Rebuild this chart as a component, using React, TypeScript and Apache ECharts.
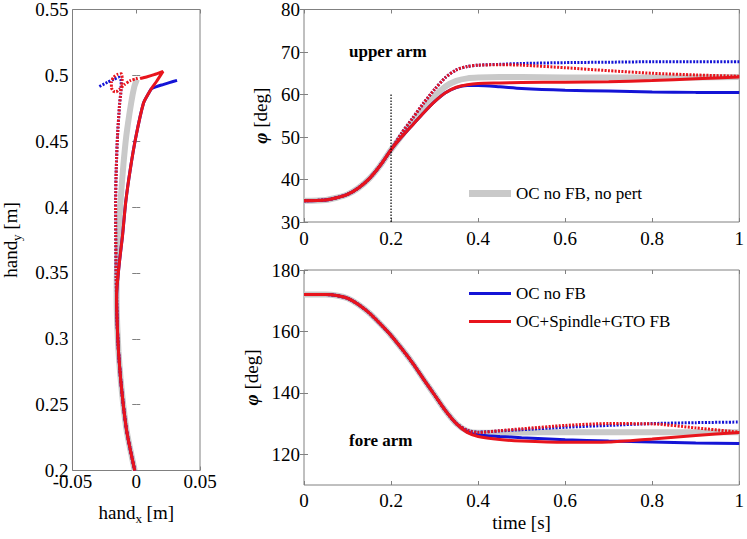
import React, { useEffect, useRef } from 'react';
import * as echarts from 'echarts';

// ---------- time axis (s) ----------
const TIME = [0, 0.05, 0.075, 0.1, 0.125, 0.15, 0.175, 0.2, 0.225, 0.25, 0.275, 0.3, 0.325, 0.35, 0.375, 0.4, 0.45, 0.5, 0.6, 0.7, 0.8, 0.9, 1.0];

// ---------- upper arm angle (deg) ----------
const UPPER_NOPERT = [35, 35.2, 35.7, 36.5, 38, 40.2, 43.3, 47, 50.4, 53.6, 56.8, 59.6, 61.9, 63.2, 63.8, 64, 64.1, 64.1, 64, 64, 64, 64, 64.1];
const UPPER_NOFB_A = [35, 35.2, 35.7, 36.5, 38, 40.2, 43.3, 47, 50.1, 52.9, 55.7, 58.3, 60.4, 61.6, 62.1, 62.1, 61.8, 61.4, 61, 60.8, 60.6, 60.5, 60.5];
const UPPER_NOFB_B = [35, 35.2, 35.7, 36.5, 38, 40.2, 43.3, 47, 51, 54.5, 58, 61.2, 64, 65.8, 66.6, 66.9, 67.1, 67.3, 67.5, 67.6, 67.7, 67.7, 67.7];
const UPPER_FB_A = [35, 35.2, 35.7, 36.5, 38, 40.2, 43.3, 47, 50.1, 52.9, 55.7, 58.3, 60.4, 61.7, 62.3, 62.6, 62.7, 62.8, 62.9, 63, 63.3, 63.7, 64.1];
const UPPER_FB_B = [35, 35.2, 35.7, 36.5, 38, 40.2, 43.3, 47, 51, 54.5, 58, 61.2, 64, 65.8, 66.6, 66.9, 67, 66.9, 66.3, 65.6, 65, 64.6, 64.3];

// ---------- fore arm angle (deg) ----------
const FORE_NOPERT = [172, 172, 171.7, 170.8, 168.8, 166, 162.5, 158.7, 154.3, 149.6, 144.4, 139.3, 134.2, 130, 127.6, 127, 127, 127.1, 127.2, 127.2, 127.2, 127.2, 127.2];
const FORE_NOFB_A = [172, 172, 171.7, 170.8, 168.8, 166, 162.5, 158.7, 154.3, 149.6, 144.4, 139.3, 134.2, 130, 127.3, 126.3, 125.8, 125.4, 124.7, 124.3, 124, 123.7, 123.5];
const FORE_NOFB_B = [172, 172, 171.7, 170.8, 168.8, 166, 162.5, 158.7, 154.3, 149.6, 144.4, 139.3, 134.2, 130, 127.8, 127.2, 127.6, 128.0, 128.8, 129.4, 130, 130.3, 130.5];
const FORE_FB_A = [172, 172, 171.7, 170.8, 168.8, 166, 162.5, 158.7, 154.3, 149.6, 144.4, 139.3, 134.2, 130, 127.1, 125.8, 124.8, 124.3, 123.9, 124, 125, 126.1, 127.1];
const FORE_FB_B = [172, 172, 171.7, 170.8, 168.8, 166, 162.5, 158.7, 154.3, 149.6, 144.4, 139.3, 134.2, 130, 127.8, 127.1, 127.7, 128.3, 129.4, 130, 129.9, 128.6, 127.2];

// ---------- perturbation marker ----------
const PERT_T = [0.2, 0.2];
const PERT_Y = [30, 60];

// ---------- hand path (m) ----------
const HAND_NOPERT_X = [-0.0012, -0.0045, -0.0075, -0.0102, -0.0123, -0.0139, -0.0149, -0.0154, -0.0152, -0.0140, -0.0124, -0.0104, -0.0078, -0.0040, -0.0015, 0.0005];
const HAND_NOPERT_Y = [0.200, 0.215, 0.230, 0.250, 0.270, 0.290, 0.310, 0.330, 0.350, 0.378, 0.4035, 0.4286, 0.454, 0.479, 0.4915, 0.497];

const HAND_FB_A_X = [-0.0012, -0.0045, -0.0075, -0.0102, -0.0123, -0.0139, -0.0149, -0.0154, -0.0150, -0.0130, -0.0108, -0.0083, -0.0047, -0.0002, 0.0057, 0.0095, 0.0120, 0.0160, 0.0210, 0.0140, 0.0080, 0.0030];
const HAND_FB_A_Y = [0.200, 0.215, 0.230, 0.250, 0.270, 0.290, 0.310, 0.330, 0.340, 0.360, 0.378, 0.4035, 0.4286, 0.4538, 0.479, 0.486, 0.490, 0.4955, 0.5030, 0.5005, 0.4988, 0.4976];

const HAND_NOFB_A_X = [-0.0012, -0.0045, -0.0075, -0.0102, -0.0123, -0.0139, -0.0149, -0.0154, -0.0150, -0.0130, -0.0108, -0.0083, -0.0047, -0.0002, 0.0057, 0.0095, 0.0120, 0.0160, 0.0210, 0.0260, 0.0320];
const HAND_NOFB_A_Y = [0.200, 0.215, 0.230, 0.250, 0.270, 0.290, 0.310, 0.330, 0.340, 0.360, 0.378, 0.4035, 0.4286, 0.4538, 0.479, 0.486, 0.490, 0.4915, 0.4930, 0.4945, 0.4962];

const HAND_FB_B_X = [-0.0012, -0.0045, -0.0075, -0.0102, -0.0123, -0.0139, -0.0149, -0.0154, -0.0158, -0.0161, -0.0162, -0.0157, -0.0147, -0.0130, -0.0122, -0.0116, -0.0110, -0.0118, -0.0145, -0.0175, -0.0195, -0.0195, -0.0180, -0.0158, -0.0130, -0.0095, -0.0047, 0.0000, 0.0025];
const HAND_FB_B_Y = [0.200, 0.215, 0.230, 0.250, 0.270, 0.290, 0.310, 0.330, 0.350, 0.378, 0.4035, 0.4286, 0.454, 0.479, 0.486, 0.492, 0.4975, 0.5012, 0.5008, 0.4988, 0.4950, 0.4908, 0.4880, 0.4875, 0.4895, 0.4928, 0.4960, 0.4975, 0.4982];

const HAND_NOFB_B_X = [-0.0012, -0.0045, -0.0075, -0.0102, -0.0123, -0.0139, -0.0149, -0.0154, -0.0158, -0.0161, -0.0162, -0.0157, -0.0147, -0.0130, -0.0122, -0.0118, -0.0135, -0.0175, -0.0225, -0.0290];
const HAND_NOFB_B_Y = [0.200, 0.215, 0.230, 0.250, 0.270, 0.290, 0.310, 0.330, 0.350, 0.378, 0.4035, 0.4286, 0.454, 0.479, 0.486, 0.4955, 0.4985, 0.4970, 0.4948, 0.4915];

// ---------- tick values ----------
const FORE_TICKS = [120, 140, 160, 180];

const NAME_NOPERT = 'OC no FB, no pert';
const NAME_NOFB = 'OC no FB';
const NAME_FB = 'OC+Spindle+GTO FB';

const FONT = 'Liberation Serif';
const GRAY = '#c9c9c9';
const BLUE = '#1414d6';
const RED = '#e8141c';
const AXIS_GRAY = '#808080';

function zip(xs: number[], ys: number[]) {
  return xs.map((x, i) => [x, ys[i]]);
}

export default function App() {
  const ref = useRef<HTMLDivElement>(null);

  useEffect(() => {
    if (!ref.current) return;
    const chart = echarts.init(ref.current, null, { renderer: 'svg' });

    const grids = [
      { left: 72, top: 6, width: 128, height: 464.5 },
      { left: 304, top: 7, width: 440, height: 215 },
      { left: 304, top: 270, width: 440, height: 215 },
    ].map((g) => ({ ...g, show: true, borderColor: AXIS_GRAY, borderWidth: 1, backgroundColor: 'transparent' }));

    const label = (margin: number, extra: any = {}) => ({
      show: true,
      color: '#000',
      fontFamily: FONT,
      fontSize: 19,
      margin,
      ...extra,
    });
    const tick = (extra: any = {}) => ({ show: true, inside: true, length: 4, lineStyle: { color: AXIS_GRAY }, ...extra });
    const nameStyle = {
      color: '#000',
      fontFamily: FONT,
      fontSize: 19,
      rich: {
        s: { fontFamily: FONT, fontSize: 13, color: '#000', padding: [11, 0, 0, 0] },
        p: { fontFamily: FONT, fontSize: 19, color: '#000', fontWeight: 'bold', fontStyle: 'italic' },
        n: { fontFamily: FONT, fontSize: 19, color: '#000' },
      },
    };

    const baseAxis = { type: 'value', axisLine: { show: false }, splitLine: { show: false } };
    const mirror = (gridIndex: number, position: string, min: number, max: number, interval: number, tickExtra: any = {}) => ({
      ...baseAxis,
      gridIndex,
      position,
      min,
      max,
      interval,
      axisLabel: { show: false },
      axisTick: tick(tickExtra),
    });

    const xAxis = [
      {
        ...baseAxis, gridIndex: 0, position: 'bottom', min: -0.05, max: 0.05, interval: 0.05,
        axisLabel: label(1), axisTick: tick(),
        name: '{n|hand}{s|x}{n| [m]}', nameLocation: 'middle', nameGap: 30, nameTextStyle: nameStyle,
      },
      {
        ...baseAxis, gridIndex: 1, position: 'bottom', min: 0, max: 1, interval: 0.2,
        axisLabel: label(7), axisTick: tick(),
      },
      {
        ...baseAxis, gridIndex: 2, position: 'bottom', min: 0, max: 1, interval: 0.2,
        axisLabel: label(6), axisTick: tick(),
        name: 'time [s]', nameLocation: 'middle', nameGap: 28, nameTextStyle: nameStyle,
      },
      mirror(0, 'top', -0.05, 0.05, 0.05),
      mirror(1, 'top', 0, 1, 0.2),
      mirror(2, 'top', 0, 1, 0.2),
    ];

    const yAxis = [
      {
        ...baseAxis, gridIndex: 0, position: 'left', min: 0.2, max: 0.55, interval: 0.05,
        axisLabel: label(4), axisTick: tick(),
        name: '{n|hand}{s|y}{n| [m]}', nameLocation: 'middle', nameGap: 50, nameTextStyle: nameStyle,
      },
      {
        ...baseAxis, gridIndex: 1, position: 'left', min: 30, max: 80, interval: 10,
        axisLabel: label(4), axisTick: tick(),
        name: '{p|φ}{n| [deg]}', nameLocation: 'middle', nameGap: 32, nameTextStyle: nameStyle,
      },
      {
        ...baseAxis, gridIndex: 2, position: 'left', min: 110, max: 180, interval: 10,
        axisLabel: label(4, { customValues: FORE_TICKS }), axisTick: tick({ customValues: FORE_TICKS }),
        name: '{p|φ}{n| [deg]}', nameLocation: 'middle', nameGap: 32, nameTextStyle: nameStyle,
      },
      mirror(0, 'right', 0.2, 0.55, 0.05),
      mirror(1, 'right', 30, 80, 10),
      mirror(2, 'right', 110, 180, 10, { customValues: FORE_TICKS }),
    ];

    const line = (name: string, xi: number, yi: number, data: number[][], color: string, width: number, dotted: boolean, z: number, smooth: number) => ({
      type: 'line',
      name,
      xAxisIndex: xi,
      yAxisIndex: yi,
      data,
      symbol: 'none',
      showSymbol: false,
      smooth,
      z,
      lineStyle: { color, width, type: dotted ? [2, 1.4] : 'solid', cap: 'butt' },
      itemStyle: { color },
      emphasis: { disabled: true },
    });

    const series: any[] = [
      // hand path
      line(NAME_NOPERT, 0, 0, zip(HAND_NOPERT_X, HAND_NOPERT_Y), GRAY, 6, false, 1, 0.2),
      line(NAME_NOFB, 0, 0, zip(HAND_NOFB_A_X, HAND_NOFB_A_Y), BLUE, 3, false, 2, 0.2),
      line(NAME_NOFB + ' (pert 2)', 0, 0, zip(HAND_NOFB_B_X, HAND_NOFB_B_Y), BLUE, 3, true, 3, 0.2),
      line(NAME_FB, 0, 0, zip(HAND_FB_A_X, HAND_FB_A_Y), RED, 3, false, 4, 0.2),
      line(NAME_FB + ' (pert 2)', 0, 0, zip(HAND_FB_B_X, HAND_FB_B_Y), RED, 3, true, 5, 0.2),
      // upper arm
      line(NAME_NOPERT, 1, 1, zip(TIME, UPPER_NOPERT), GRAY, 6, false, 1, 0.25),
      line(NAME_NOFB, 1, 1, zip(TIME, UPPER_NOFB_A), BLUE, 3, false, 2, 0.25),
      line(NAME_NOFB + ' (pert 2)', 1, 1, zip(TIME, UPPER_NOFB_B), BLUE, 3, true, 3, 0.25),
      line(NAME_FB, 1, 1, zip(TIME, UPPER_FB_A), RED, 3, false, 4, 0.25),
      line(NAME_FB + ' (pert 2)', 1, 1, zip(TIME, UPPER_FB_B), RED, 3, true, 5, 0.25),
      {
        type: 'line', name: 'perturbation', xAxisIndex: 1, yAxisIndex: 1,
        data: zip(PERT_T, PERT_Y), symbol: 'none', z: 6,
        lineStyle: { color: '#000', width: 1.2, type: [1.5, 1.5] },
      },
      // fore arm
      line(NAME_NOPERT, 2, 2, zip(TIME, FORE_NOPERT), GRAY, 6, false, 1, 0.25),
      line(NAME_NOFB, 2, 2, zip(TIME, FORE_NOFB_A), BLUE, 3, false, 2, 0.25),
      line(NAME_NOFB + ' (pert 2)', 2, 2, zip(TIME, FORE_NOFB_B), BLUE, 3, true, 3, 0.25),
      line(NAME_FB, 2, 2, zip(TIME, FORE_FB_A), RED, 3, false, 4, 0.25),
      line(NAME_FB + ' (pert 2)', 2, 2, zip(TIME, FORE_FB_B), RED, 3, true, 5, 0.25),
    ];

    const legendText = { color: '#000', fontFamily: FONT, fontSize: 17 };

    chart.setOption({
      animation: false,
      backgroundColor: '#fff',
      textStyle: { fontFamily: FONT, color: '#000' },
      grid: grids,
      xAxis,
      yAxis,
      legend: [
        {
          data: [NAME_NOPERT], left: 464, top: 180, icon: 'rect', itemWidth: 42, itemHeight: 7,
          textStyle: legendText, selectedMode: false, orient: 'vertical',
        },
        {
          data: [NAME_NOFB, NAME_FB], left: 464, top: 280, icon: 'rect', itemWidth: 42, itemHeight: 3, itemGap: 11,
          textStyle: legendText, selectedMode: false, orient: 'vertical',
        },
      ],
      graphic: [
        { type: 'text', left: 349, top: 43, style: { text: 'upper arm', fill: '#000', fontSize: 17, fontFamily: FONT, fontWeight: 'bold' } },
        { type: 'text', left: 349, top: 432, style: { text: 'fore arm', fill: '#000', fontSize: 17, fontFamily: FONT, fontWeight: 'bold' } },
      ],
      series,
    });

    return () => chart.dispose();
  }, []);

  return (
    <div
      ref={ref}
      style={{ position: 'fixed', left: 0, top: 0, width: 747, height: 539, background: '#fff', fontFamily: FONT }}
    />
  );
}
